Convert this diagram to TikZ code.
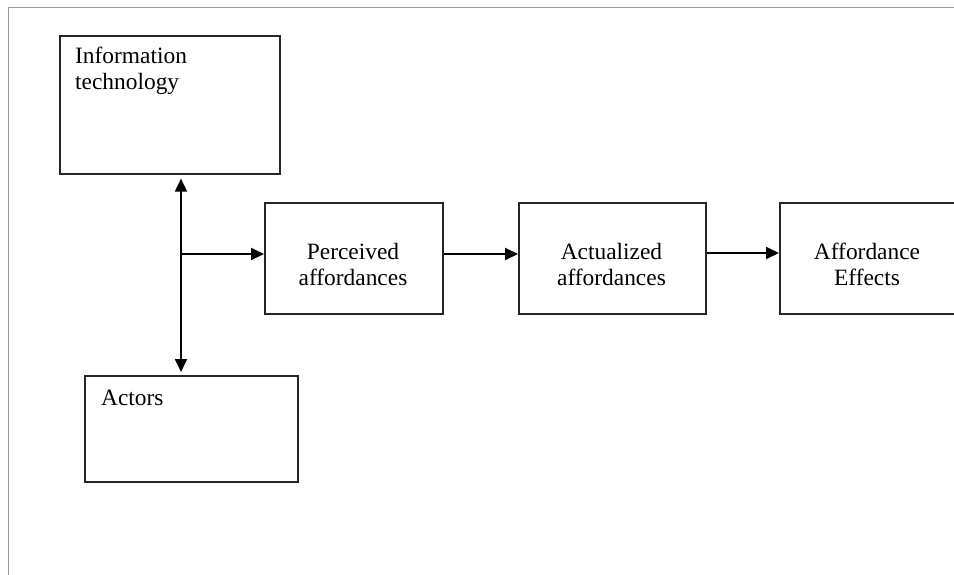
\documentclass[tikz,border=0pt]{standalone}
\usepackage{fontspec}
\setmainfont{Liberation Serif}
\usetikzlibrary{arrows.meta}
\begin{document}
\begin{tikzpicture}[x=1pt,y=-1pt,
  box/.style={draw=black!85, line width=1.6pt, rectangle, anchor=north west, inner sep=0pt},
  lbl/.style={font=\fontsize{23.4}{26}\selectfont, inner sep=0pt, align=center},
  conn/.style={line width=1.9pt, -{Triangle[length=13pt,width=12pt]}},
  dconn/.style={line width=1.9pt, {Triangle[length=13pt,width=12pt]}-{Triangle[length=13pt,width=12pt]}}]
\useasboundingbox (0,0) rectangle (954,575);
\draw[gray!80, line width=1pt] (8,575) -- (8,8) -- (954,8);
% boxes
\node[box, minimum width=220pt, minimum height=138pt] (it) at (59,35) {};
\node[box, minimum width=213pt, minimum height=106pt] (act) at (84,375) {};
\node[box, minimum width=178pt, minimum height=111pt] (perc) at (264,202) {};
\node[box, minimum width=187pt, minimum height=111pt] (actz) at (518,202) {};
\node[box, minimum width=177pt, minimum height=111pt] (eff) at (779,202) {};
% texts (base anchor = last line)
\node[lbl, anchor=base west, align=left] (itt) at (75,90) {Information\\technology};
\node[lbl, anchor=base west] (actt) at (101,405) {Actors};
\node[lbl, anchor=base] (perct) at (353,285) {Perceived\\affordances};
\node[lbl, anchor=base] (actzt) at (611.5,285) {Actualized\\affordances};
\node[lbl, anchor=base] (efft) at (867,285) {Affordance\\Effects};
% connectors
\coordinate (j) at (181,254);
\draw[dconn, shorten <=4pt, shorten >=3pt] (it.south -| j) -- (act.north -| j);
\draw[conn] (j) -- (perc.west |- j);
\draw[conn] (perc.east |- j) -- (actz.west |- j);
\draw[conn] ([yshift=1pt]actz.east |- j) -- ([yshift=1pt]eff.west |- j);
\end{tikzpicture}
\end{document}
